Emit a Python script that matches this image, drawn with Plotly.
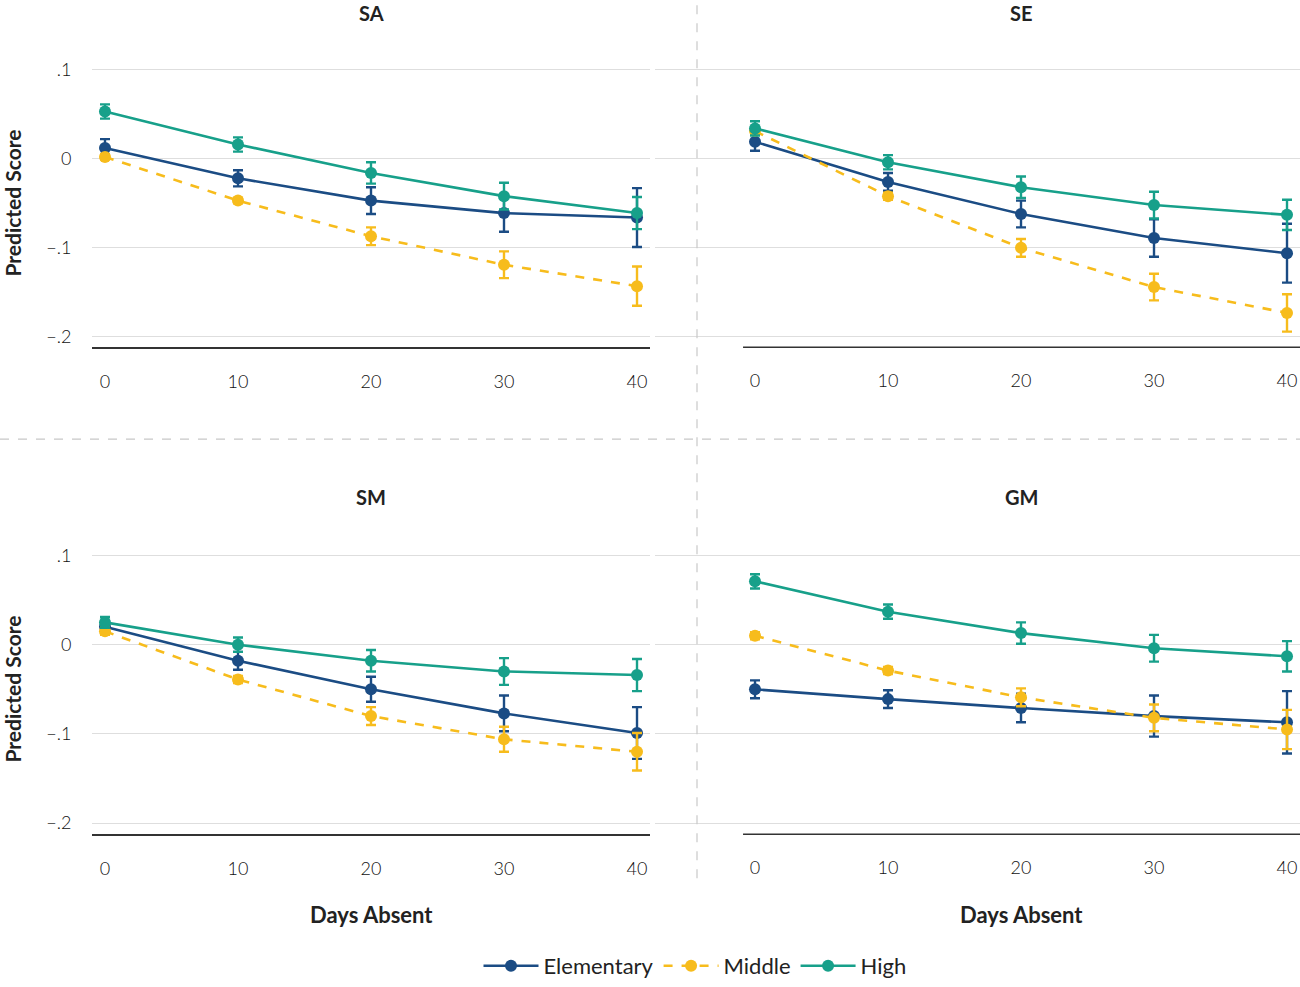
import plotly.graph_objects as go

days = [0, 10, 20, 30, 40]
panels = ["SA", "SE", "SM", "GM"]
groups = ["Elementary", "Middle", "High"]

# Predicted scores per panel and group
SA_elem = [0.012, -0.022, -0.047, -0.061, -0.066]
SA_elem_err = [0.010, 0.009, 0.015, 0.021, 0.033]
SA_mid = [0.002, -0.047, -0.087, -0.119, -0.143]
SA_mid_err = [0.003, 0.003, 0.010, 0.015, 0.022]
SA_high = [0.053, 0.016, -0.016, -0.042, -0.061]
SA_high_err = [0.008, 0.008, 0.012, 0.015, 0.018]

SE_elem = [0.019, -0.026, -0.062, -0.089, -0.106]
SE_elem_err = [0.010, 0.010, 0.015, 0.021, 0.033]
SE_mid = [0.031, -0.042, -0.100, -0.144, -0.173]
SE_mid_err = [0.004, 0.004, 0.010, 0.015, 0.021]
SE_high = [0.034, -0.004, -0.032, -0.052, -0.063]
SE_high_err = [0.008, 0.008, 0.012, 0.015, 0.017]

SM_elem = [0.020, -0.018, -0.050, -0.077, -0.099]
SM_elem_err = [0.006, 0.010, 0.014, 0.020, 0.029]
SM_mid = [0.015, -0.039, -0.080, -0.106, -0.120]
SM_mid_err = [0.004, 0.004, 0.010, 0.014, 0.021]
SM_high = [0.025, 0.000, -0.018, -0.030, -0.034]
SM_high_err = [0.006, 0.008, 0.012, 0.015, 0.018]

GM_elem = [-0.050, -0.061, -0.071, -0.080, -0.087]
GM_elem_err = [0.010, 0.010, 0.016, 0.023, 0.035]
GM_mid = [0.010, -0.029, -0.059, -0.082, -0.095]
GM_mid_err = [0.004, 0.004, 0.010, 0.015, 0.022]
GM_high = [0.071, 0.037, 0.013, -0.004, -0.013]
GM_high_err = [0.008, 0.008, 0.012, 0.015, 0.017]

data = {
    "SA": [(SA_elem, SA_elem_err), (SA_mid, SA_mid_err), (SA_high, SA_high_err)],
    "SE": [(SE_elem, SE_elem_err), (SE_mid, SE_mid_err), (SE_high, SE_high_err)],
    "SM": [(SM_elem, SM_elem_err), (SM_mid, SM_mid_err), (SM_high, SM_high_err)],
    "GM": [(GM_elem, GM_elem_err), (GM_mid, GM_mid_err), (GM_high, GM_high_err)],
}

y_tickvals = [0.1, 0, -0.1, -0.2]
y_ticktext = [".1", "0", "\u2212.1", "\u2212.2"]
x_tickvals = [0, 10, 20, 30, 40]
x_ticktext = ["0", "10", "20", "30", "40"]

colors = {"Elementary": "#1b4c84", "Middle": "#f7bc1c", "High": "#17a08a"}
dashes = {"Elementary": "solid", "Middle": "dash", "High": "solid"}

W, H = 1300, 987
FONT = "Lato, 'Open Sans', sans-serif"
TEXT = "#222222"

fig = go.Figure()

def px_x(p):
    return p / W

def px_y(p):
    return 1 - p / H

# subplot geometry (axes suffixes)
axes = {
    "SA": ("", "", [px_x(92), px_x(650)], [-0.977, 40.977], [px_y(348), px_y(40)], [-0.2116, 0.1333]),
    "SE": ("2", "2", [px_x(655), 1.0], [-7.52, 40.977], [px_y(348), px_y(40)], [-0.2116, 0.1333]),
    "SM": ("3", "3", [px_x(92), px_x(650)], [-0.977, 40.977], [px_y(836), px_y(527)], [-0.2125, 0.1331]),
    "GM": ("4", "4", [px_x(655), 1.0], [-7.52, 40.977], [px_y(836), px_y(527)], [-0.2125, 0.1331]),
}

layout_axes = {}
for i, p in enumerate(panels):
    xs, ys, xdom, xr, ydom, yr = axes[p]
    left = p in ("SA", "SM")
    for g_i, g in enumerate(groups):
        vals, errs = data[p][g_i]
        fig.add_trace(go.Scatter(
            x=days, y=vals, name=g, legendgroup=g, showlegend=(p == "SA"),
            mode="lines+markers",
            line=dict(color=colors[g], width=2.6, dash=dashes[g]),
            marker=dict(color=colors[g], size=12),
            error_y=dict(type="data", array=errs, visible=True,
                         color=colors[g], thickness=2.4, width=5),
            xaxis="x" + xs, yaxis="y" + ys,
        ))
    layout_axes["xaxis" + xs] = dict(
        domain=xdom, range=xr, tickvals=x_tickvals, ticktext=x_ticktext,
        showgrid=False, zeroline=False, showline=left, linecolor="#333333", linewidth=1.5,
        ticks="outside", ticklen=17, tickcolor="rgba(0,0,0,0)",
        tickfont=dict(family=FONT, size=18, color="#111111", weight=300),
        anchor="y" + ys, fixedrange=True,
    )
    layout_axes["yaxis" + ys] = dict(
        domain=ydom, range=yr, tickvals=y_tickvals, ticktext=y_ticktext,
        showgrid=True, gridcolor="#dedede", gridwidth=1, zeroline=False,
        showline=False, showticklabels=left,
        ticks="outside", ticklen=16, tickcolor="rgba(0,0,0,0)",
        tickfont=dict(family=FONT, size=18, color="#111111", weight=300),
        anchor="x" + xs, fixedrange=True,
    )

fig.update_layout(**layout_axes)

shapes = []
# baselines for right panels
for xs, ys in (("2", "2"), ("4", "4")):
    shapes.append(dict(type="line", xref="x" + xs, yref="y" + ys + " domain",
                       x0=-0.9, x1=40.977, y0=0, y1=0,
                       line=dict(color="#333333", width=1.5)))
# dashed dividers
shapes.append(dict(type="line", xref="paper", yref="paper",
                   x0=px_x(697), x1=px_x(697), y0=px_y(880), y1=1,
                   line=dict(color="#c8c8c8", width=1.2, dash="dash")))
shapes.append(dict(type="line", xref="paper", yref="paper",
                   x0=0, x1=1, y0=px_y(440), y1=px_y(440),
                   line=dict(color="#c8c8c8", width=1.2, dash="dash")))

annotations = []
titles = [("SA", 371, 13), ("SE", 1021, 13), ("SM", 371, 498), ("GM", 1021, 498)]
for t, x, y in titles:
    annotations.append(dict(text="<b>%s</b>" % t, x=px_x(x), y=px_y(y), xref="paper", yref="paper",
                            xanchor="center", yanchor="middle", showarrow=False,
                            font=dict(family=FONT, size=20, color=TEXT)))
for y in (204, 691):
    annotations.append(dict(text="<b>Predicted Score</b>", x=px_x(13), y=px_y(y), xref="paper", yref="paper",
                            xanchor="center", yanchor="middle", showarrow=False, textangle=-90,
                            font=dict(family=FONT, size=21, color=TEXT)))
for x in (371, 1021):
    annotations.append(dict(text="<b>Days Absent</b>", x=px_x(x), y=px_y(916), xref="paper", yref="paper",
                            xanchor="center", yanchor="middle", showarrow=False,
                            font=dict(family=FONT, size=22, color=TEXT)))

fig.update_layout(
    width=W, height=H,
    margin=dict(l=0, r=0, t=0, b=0),
    paper_bgcolor="white", plot_bgcolor="white",
    font=dict(family=FONT, color=TEXT),
    shapes=shapes, annotations=annotations,
    showlegend=True,
    legend=dict(orientation="h", x=px_x(695), y=px_y(968), xanchor="center", yanchor="middle",
                font=dict(family=FONT, size=22, color=TEXT), itemwidth=55,
                bgcolor="rgba(0,0,0,0)"),
)

fig.write_html("out.html")
